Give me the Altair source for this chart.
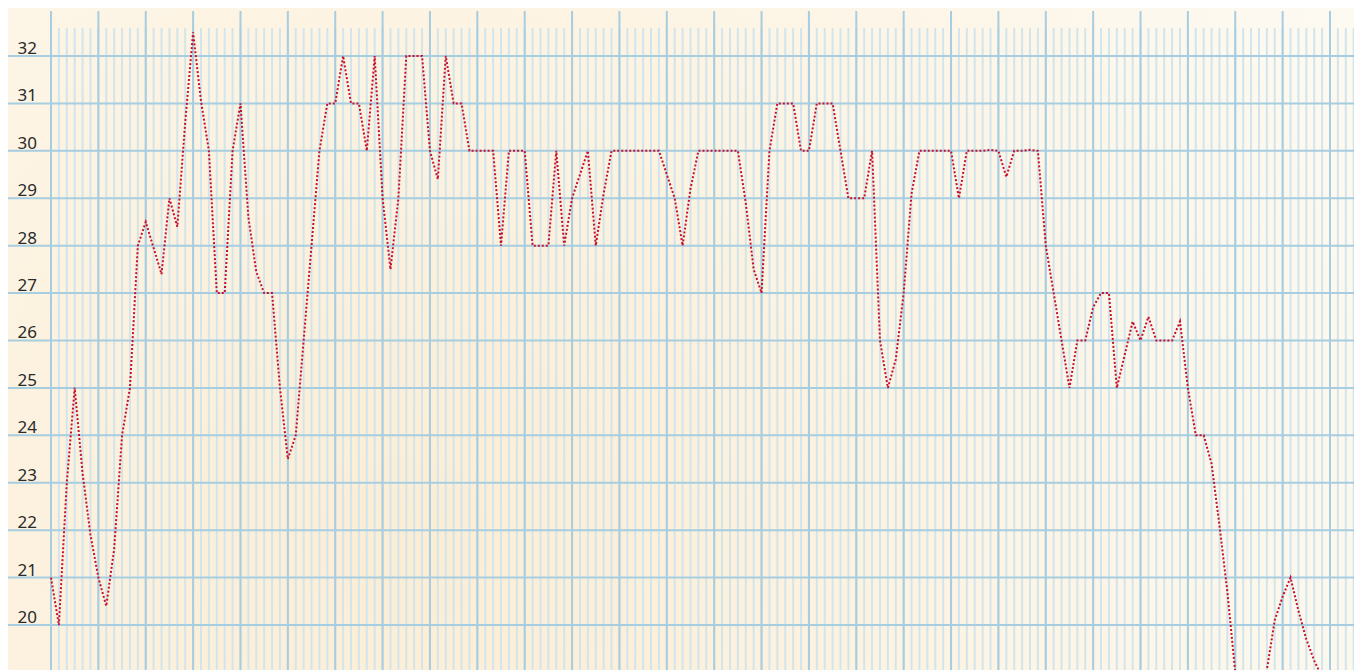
import altair as alt
import pandas as pd

# --- data -------------------------------------------------------------
values = [
    21, 20, 23, 25, 23.2, 21.9, 21.0, 20.4, 21.6, 24.0,
    25, 28, 28.5, 27.95, 27.4, 29, 28.4, 30.6, 32.5, 31.05,
    30, 27, 27, 30, 31, 28.6, 27.45, 27, 27, 25,
    23.5, 24, 26, 28, 30, 31, 31, 32, 31, 31,
    30, 32, 29, 27.5, 29, 32, 32, 32, 30, 29.4,
    32, 31, 31, 30, 30, 30, 30, 28, 30, 30,
    30, 28, 28, 28, 30, 28, 29, 29.5, 30, 28,
    29.1, 30, 30, 30, 30, 30, 30, 30, 29.5, 29.0,
    28, 29.2, 30, 30, 30, 30, 30, 30, 28.9, 27.5,
    27, 30, 31, 31, 31, 30, 30, 31, 31, 31,
    30, 29, 29, 29, 30, 26, 25, 25.6, 27, 29.1,
    30, 30, 30, 30, 30, 29, 30, 30, 30, 30.02,
    30, 29.45, 30, 30, 30.02, 30, 28, 27, 26, 25,
    26, 26, 26.7, 27, 27, 25, 25.7, 26.4, 26, 26.5,
    26, 26, 26, 26.4, 25, 24, 24, 23.4, 22.1, 20.7,
    19.0, 18, 18, 18, 19.05, 20.1, 20.6, 21, 20.3, 19.7,
    19.25, 18.9,
]
index = list(range(len(values)))
y_ticks = list(range(20, 33))
minor_idx = list(range(0, 167))
major_idx = list(range(0, 163, 6))

W, H = 1346, 662
xs = alt.Scale(domain=[-5.446, 165.04], nice=False, zero=False)
ys = alt.Scale(domain=[19.051, 33.012], nice=False, zero=False)

line_df = pd.DataFrame({"i": index, "v": values})
tick_df = pd.DataFrame({"v": y_ticks})
minor_df = pd.DataFrame({"i": minor_idx})
major_df = pd.DataFrame({"i": major_idx})

bg = alt.Chart(pd.DataFrame({"a": [0]})).mark_rect(
    color=alt.RadialGradient(
        gradient="radial",
        stops=[
            alt.GradientStop(offset=0, color="#fcedd4"),
            alt.GradientStop(offset=1, color="#fdfaf2"),
        ],
        x1=0.3, y1=0.65, r1=0.0,
        x2=0.3, y2=0.65, r2=0.8,
    )
).encode(x=alt.value(0), x2=alt.value(W), y=alt.value(0), y2=alt.value(H))

minor = alt.Chart(minor_df).mark_rule(color="#d2e5ec", strokeWidth=2).encode(
    x=alt.X("i:Q", scale=xs, axis=None), y=alt.value(20), y2=alt.value(H)
)
major = alt.Chart(major_df).mark_rule(color="#a7cde0", strokeWidth=2).encode(
    x=alt.X("i:Q", scale=xs, axis=None), y=alt.value(3), y2=alt.value(H)
)
hlines = alt.Chart(tick_df).mark_rule(color="#a7cde0", strokeWidth=2).encode(
    y=alt.Y("v:Q", scale=ys, axis=None), x=alt.value(0), x2=alt.value(W)
)
labels = alt.Chart(tick_df).mark_text(
    align="right", baseline="alphabetic", dy=-2, fontSize=17,
    font="Noto Sans", color="#2a2a2a"
).encode(x=alt.value(29), y=alt.Y("v:Q", scale=ys, axis=None), text="v:Q")

line = alt.Chart(line_df).mark_line(
    color="#c8102e", strokeWidth=2, strokeDash=[2, 2], clip=True
).encode(
    x=alt.X("i:Q", scale=xs, axis=None),
    y=alt.Y("v:Q", scale=ys, axis=None),
)

chart = alt.layer(bg, minor, major, hlines, labels, line).properties(
    width=W, height=H, padding=0, autosize=alt.AutoSizeParams(type="none"),
    background="#fdf7ea",
).configure_view(stroke=None)

chart.save("out.html", embed_options={"renderer": "svg", "actions": False})
